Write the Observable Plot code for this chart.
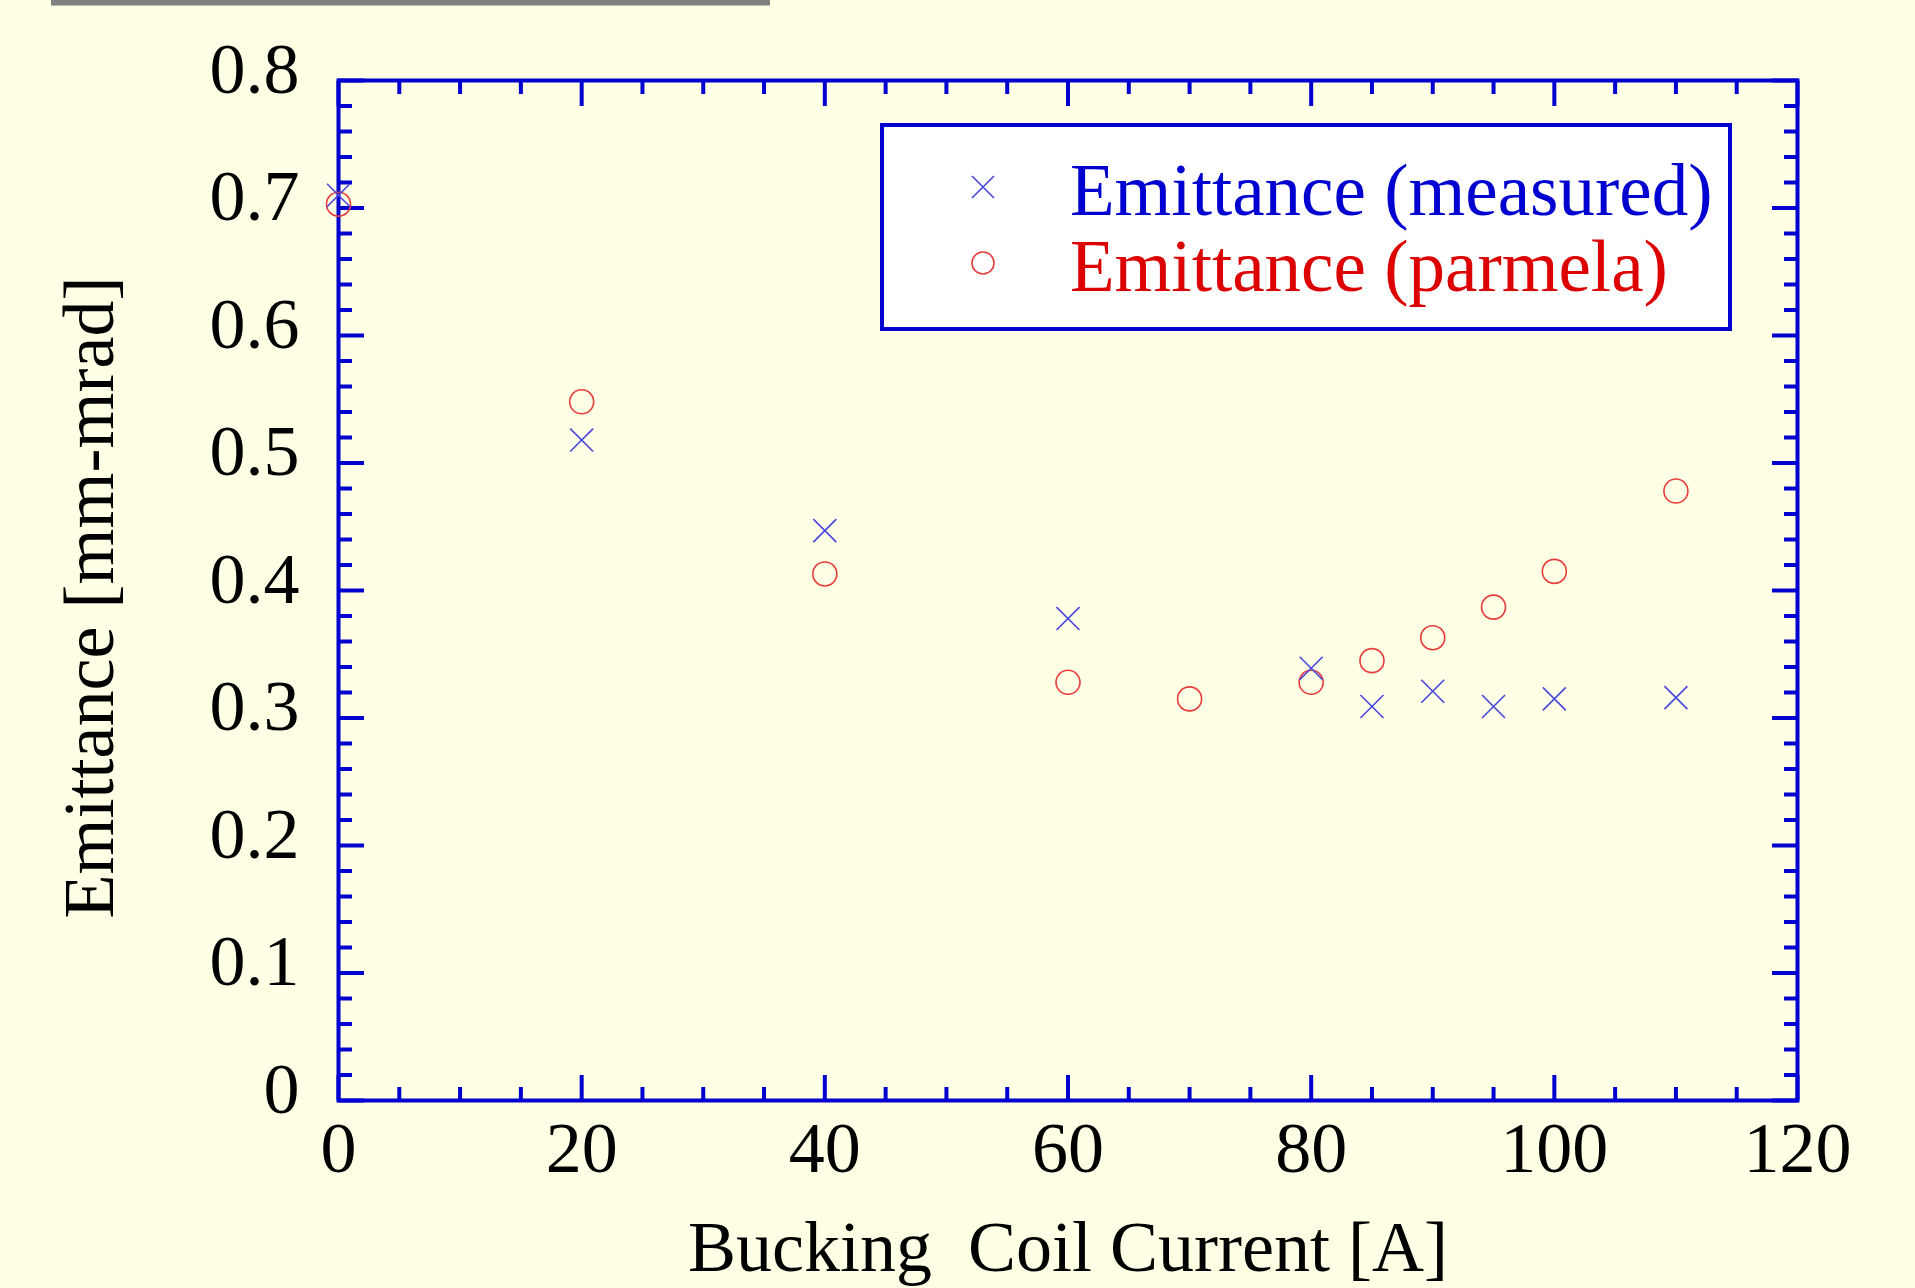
<!DOCTYPE html>
<html>
<head>
<meta charset="utf-8">
<script src="https://cdn.jsdelivr.net/npm/d3@7"></script>
<script src="https://cdn.jsdelivr.net/npm/@observablehq/plot@0.6"></script>
<style>
  html, body { margin: 0; padding: 0; background: #ffffe5; }
  #wrap { position: relative; width: 1915px; height: 1288px; overflow: hidden; font-family: "Liberation Serif", "Times New Roman", serif; }
  #topbar { position: absolute; left: 51px; top: 0; width: 719px; height: 5px; background: #808080; border-bottom: 1px solid #b8b8b0; }
  #legend { position: absolute; left: 880px; top: 123px; width: 852px; height: 208px; box-sizing: border-box; border: 4px solid #0000d0; background: #ffffff; }
  .lg-row { position: absolute; left: 0; height: 80px; width: 100%; }
  .lg-row svg { position: absolute; left: 83px; top: 20px; }
  .lg-row span { position: absolute; left: 186px; font-size: 73px; line-height: 80px; top: 0; white-space: nowrap; }
</style>
</head>
<body>
<div id="wrap">
  <div id="topbar"></div>
  <div id="chart"></div>
  <div id="legend"></div>
</div>
<script>
// ---- data ----
const measuredCurrent = [0, 20, 40, 60, 80, 85, 90, 95, 100, 110];
const measuredEmittance = [0.710, 0.518, 0.447, 0.378, 0.339, 0.309, 0.321, 0.309, 0.315, 0.316];
const parmelaCurrent = [0, 20, 40, 60, 70, 80, 85, 90, 95, 100, 110];
const parmelaEmittance = [0.703, 0.548, 0.413, 0.328, 0.315, 0.328, 0.345, 0.363, 0.387, 0.415, 0.478];
const xMajorTicks = [0, 20, 40, 60, 80, 100, 120];
const xMinorTicks = [5, 10, 15, 25, 30, 35, 45, 50, 55, 65, 70, 75, 85, 90, 95, 105, 110, 115];
const yMajorTicks = [0, 0.1, 0.2, 0.3, 0.4, 0.5, 0.6, 0.7, 0.8];
const yTickLabels = ["0", "0.1", "0.2", "0.3", "0.4", "0.5", "0.6", "0.7", "0.8"];
const yMinorTicks = [0.02, 0.04, 0.06, 0.08, 0.12, 0.14, 0.16, 0.18, 0.22, 0.24, 0.26, 0.28,
  0.32, 0.34, 0.36, 0.38, 0.42, 0.44, 0.46, 0.48, 0.52, 0.54, 0.56, 0.58,
  0.62, 0.64, 0.66, 0.68, 0.72, 0.74, 0.76, 0.78];
const seriesNames = ["Emittance (measured)", "Emittance (parmela)"];
const xLabel = "Bucking\u00a0 Coil Current [A]";
const yLabel = "Emittance [mm-mrad]";

const measured = measuredCurrent.map((x, i) => ({x, y: measuredEmittance[i]}));
const parmela = parmelaCurrent.map((x, i) => ({x, y: parmelaEmittance[i]}));

const BLUE = "#0000d0";
const MARK_BLUE = "#4646e0";
const MARK_RED = "#e63c3c";
const FS = 72;

const tickAxis = (fn, ticks, anchor, size) =>
  fn(ticks, {anchor, tickSize: size, stroke: BLUE, strokeWidth: 4, fill: "none", label: null});

const chart = Plot.plot({
  width: 1915,
  height: 1288,
  marginTop: 80,
  marginRight: 118,
  marginBottom: 188,
  marginLeft: 338,
  style: {background: "transparent", fontFamily: "'Liberation Serif', 'Times New Roman', serif", color: "black"},
  x: {domain: [0, 120]},
  y: {domain: [0, 0.8]},
  marks: [
    Plot.frame({stroke: BLUE, strokeWidth: 4}),
    tickAxis(Plot.axisX, xMinorTicks, "bottom", -13),
    tickAxis(Plot.axisX, xMajorTicks, "bottom", -25),
    tickAxis(Plot.axisX, xMinorTicks, "top", -13),
    tickAxis(Plot.axisX, xMajorTicks, "top", -25),
    tickAxis(Plot.axisY, yMinorTicks, "left", -14),
    tickAxis(Plot.axisY, yMajorTicks, "left", -26),
    tickAxis(Plot.axisY, yMinorTicks, "right", -14),
    tickAxis(Plot.axisY, yMajorTicks, "right", -26),
    Plot.axisX(xMajorTicks, {anchor: "bottom", tickSize: 0, tickPadding: 20, fontSize: FS, fill: "black", label: null, tickFormat: d => String(d)}),
    Plot.axisY(yMajorTicks, {anchor: "left", tickSize: 0, tickPadding: 39, dy: -11, fontSize: FS, fill: "black", label: null,
      tickFormat: d => yTickLabels[yMajorTicks.indexOf(d)]}),
    Plot.text([xLabel], {text: d => d, frameAnchor: "bottom", textAnchor: "middle", lineAnchor: "middle", dy: 147, fontSize: FS, fill: "black"}),
    Plot.text([yLabel], {text: d => d, frameAnchor: "left", textAnchor: "middle", lineAnchor: "middle", rotate: -90, dx: -249, dy: 7, fontSize: FS, fill: "black"}),
    Plot.dot(parmela, {x: "x", y: "y", symbol: "circle", r: 12, stroke: MARK_RED, strokeWidth: 1.6, fill: "none"}),
    Plot.dot(measured, {x: "x", y: "y", symbol: "times", r: 10.5, stroke: MARK_BLUE, strokeWidth: 1.6})
  ]
});
document.getElementById("chart").appendChild(chart);

// ---- legend ----
const legend = document.getElementById("legend");
const legendItems = [
  {name: seriesNames[0], color: BLUE, mark: MARK_BLUE, sym: "times", top: 24},
  {name: seriesNames[1], color: "#dd0000", mark: MARK_RED, sym: "circle", top: 100}
];
for (const it of legendItems) {
  const row = document.createElement("div");
  row.className = "lg-row";
  row.style.top = it.top + "px";
  const svgNS = "http://www.w3.org/2000/svg";
  const svg = document.createElementNS(svgNS, "svg");
  svg.setAttribute("width", 32);
  svg.setAttribute("height", 32);
  if (it.sym === "times") {
    const p = document.createElementNS(svgNS, "path");
    p.setAttribute("d", "M5,5L27,27M5,27L27,5");
    p.setAttribute("stroke", it.mark);
    p.setAttribute("stroke-width", 1.6);
    svg.appendChild(p);
  } else {
    const c = document.createElementNS(svgNS, "circle");
    c.setAttribute("cx", 16); c.setAttribute("cy", 16); c.setAttribute("r", 11);
    c.setAttribute("stroke", it.mark); c.setAttribute("fill", "none");
    c.setAttribute("stroke-width", 1.6);
    svg.appendChild(c);
  }
  const span = document.createElement("span");
  span.textContent = it.name;
  span.style.color = it.color;
  row.appendChild(svg);
  row.appendChild(span);
  legend.appendChild(row);
}
</script>
</body>
</html>
